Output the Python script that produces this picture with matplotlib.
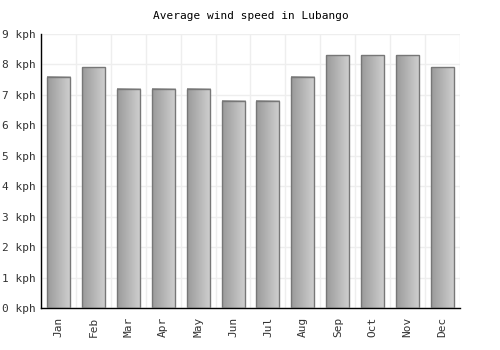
import numpy as np
import matplotlib
matplotlib.use("Agg")
import matplotlib.pyplot as plt
from matplotlib.colors import LinearSegmentedColormap

months = ["Jan", "Feb", "Mar", "Apr", "May", "Jun",
          "Jul", "Aug", "Sep", "Oct", "Nov", "Dec"]
wind_kph = [7.6, 7.9, 7.2, 7.2, 7.2, 6.8, 6.8, 7.6, 8.3, 8.3, 8.3, 7.9]
y_ticks = list(range(0, 10))
y_labels = [f"{v} kph" for v in y_ticks]

plt.rcParams["font.family"] = ["DejaVu Sans Mono"]

fig = plt.figure(figsize=(5, 3.5), dpi=100)
ax = fig.add_axes([0.082, 0.12, 0.838, 0.783])

x = np.arange(len(months))
width = 0.66
cmap = LinearSegmentedColormap.from_list("bar", ["#9a9a9a", "#d0d0d0"])
grad = np.linspace(0, 1, 64).reshape(1, -1)

bars = ax.bar(x, wind_kph, width=width, facecolor="none",
              edgecolor="#777777", linewidth=1.0, zorder=3)
for b in bars:
    x0 = b.get_x()
    h = b.get_height()
    ax.imshow(grad, cmap=cmap, aspect="auto", zorder=2,
              extent=[x0, x0 + b.get_width(), 0, h], interpolation="bilinear")

ax.set_xlim(-0.5, len(months) - 0.5)
ax.set_ylim(0, 9)
ax.set_yticks(y_ticks)
ax.set_yticklabels(y_labels)
ax.set_xticks(x)
ax.set_xticklabels(months, rotation=90)
ax.set_xticks(np.arange(-0.5, len(months), 1.0), minor=True)

ax.grid(axis="y", color="#eeeeee", linewidth=1, zorder=0)
ax.grid(axis="x", which="minor", color="#eeeeee", linewidth=1, zorder=0)
ax.set_axisbelow(True)

for s in ["top", "right"]:
    ax.spines[s].set_visible(False)
for s in ["left", "bottom"]:
    ax.spines[s].set_color("#000000")
    ax.spines[s].set_linewidth(1)

ax.tick_params(axis="both", which="both", length=0, labelsize=8, colors="#333333")
ax.tick_params(axis="x", pad=6)
ax.tick_params(axis="y", pad=4)

ax.set_title("Average wind speed in Lubango", fontsize=8, color="#000000", pad=11)

fig.savefig("out.png", dpi=100)
